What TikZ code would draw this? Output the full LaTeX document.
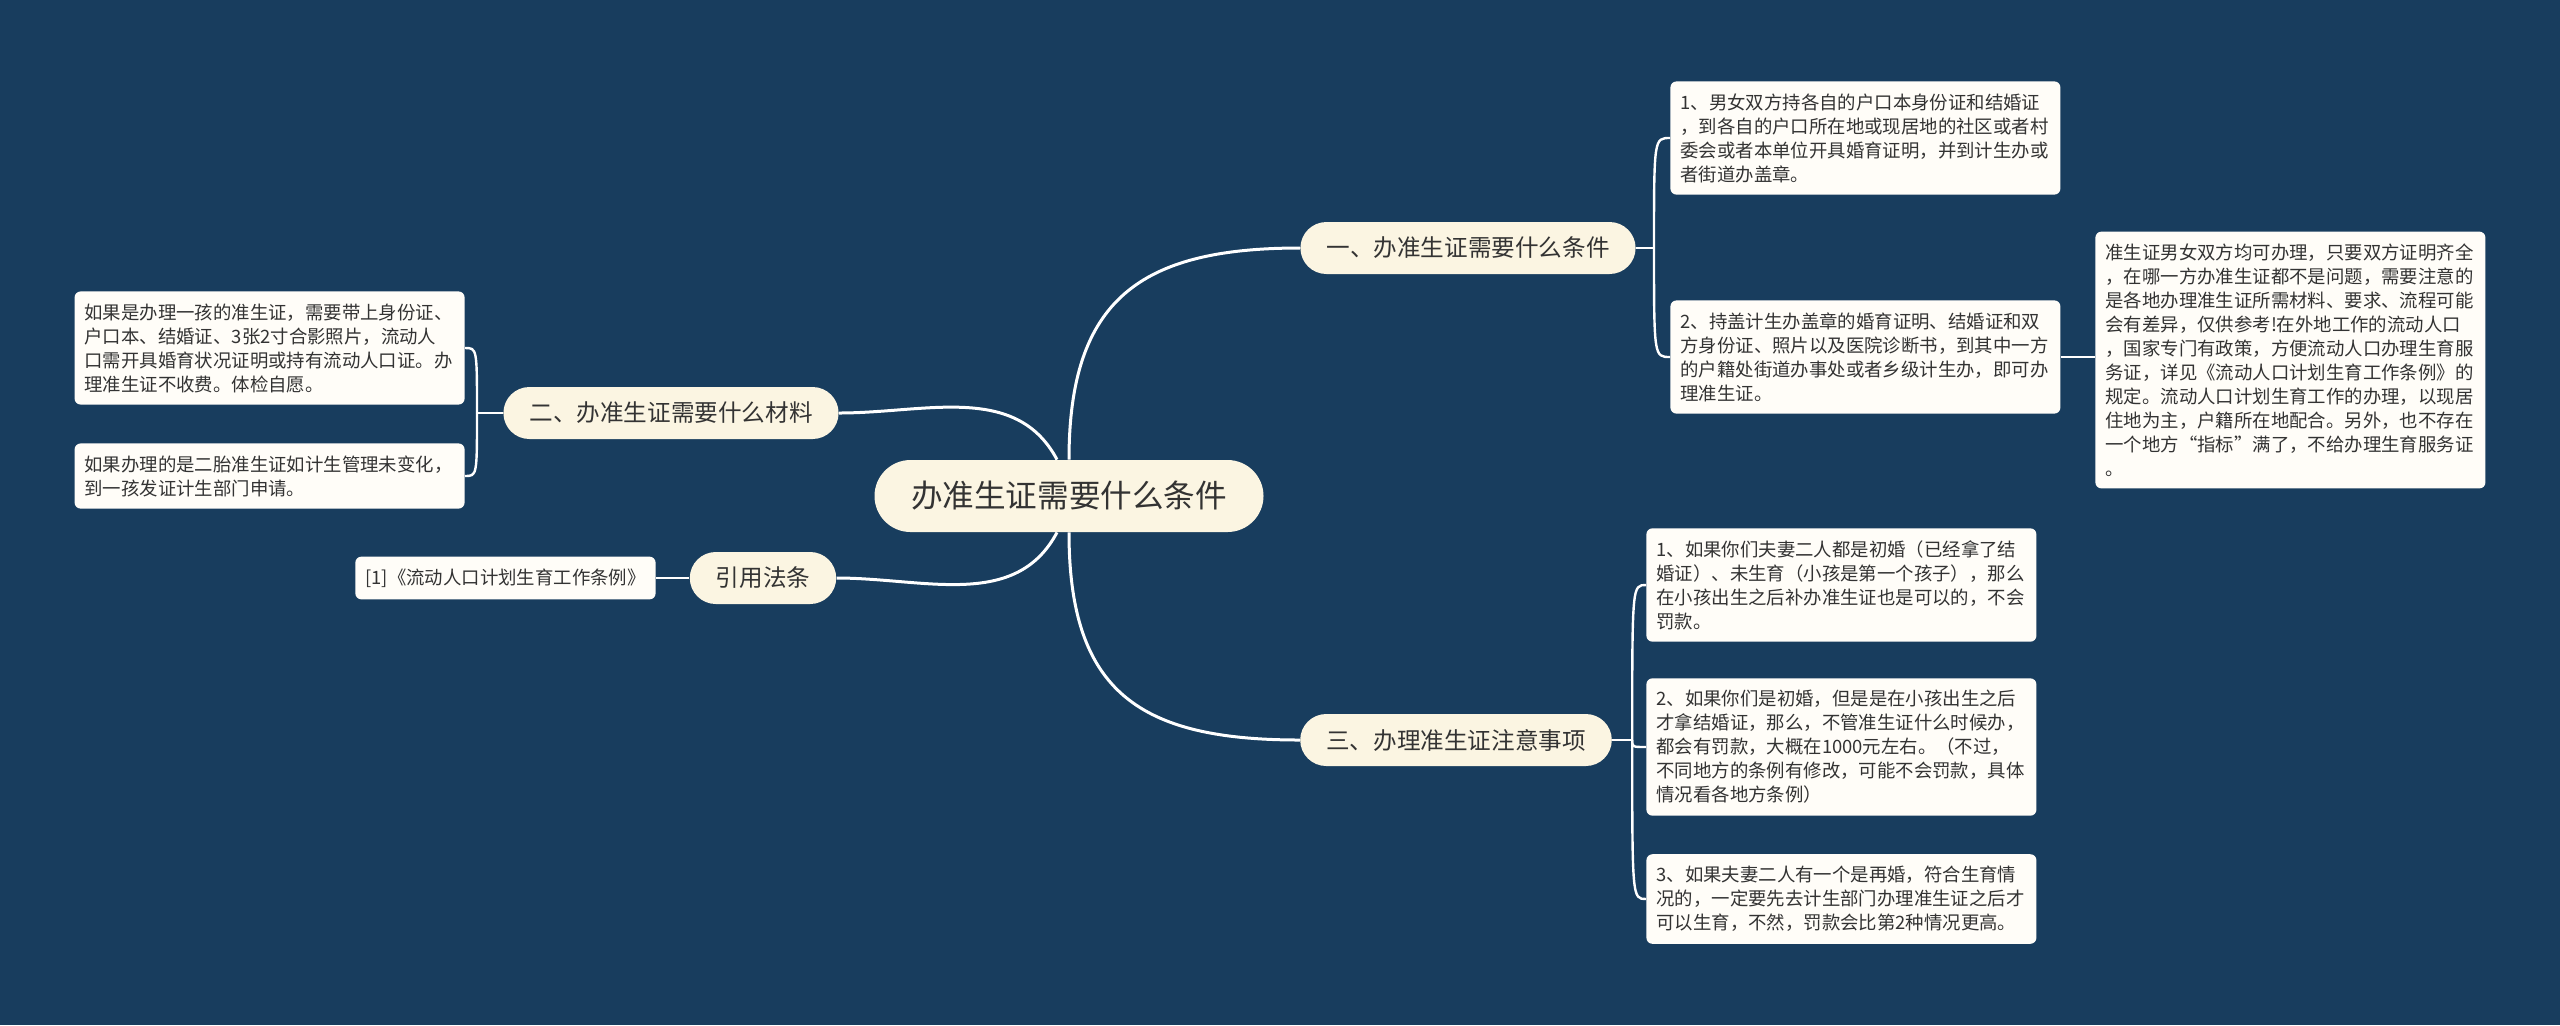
\documentclass[tikz,border=0pt]{standalone}
\usepackage{fontspec}
\setmainfont{Noto Sans CJK SC}
\usetikzlibrary{positioning}
\definecolor{bgnavy}{HTML}{183D5E}
\definecolor{topicfill}{HTML}{FBF5E2}
\definecolor{notefill}{HTML}{FFFDF8}
\definecolor{inktext}{HTML}{333333}
\tikzset{
  root/.style={rectangle,rounded corners=18pt,fill=topicfill,text=inktext,
    minimum width=194.5pt,minimum height=36pt,inner xsep=18pt,
    font=\fontsize{15.8}{18}\selectfont},
  branch/.style={rectangle,rounded corners=13pt,fill=topicfill,text=inktext,
    minimum height=26pt,inner xsep=13pt,font=\fontsize{11.8}{14}\selectfont},
  note/.style={rectangle,rounded corners=3pt,fill=notefill,text=inktext,
    align=left,inner xsep=5pt,inner ysep=6pt,font=\fontsize{9.2}{12}\selectfont},
  widenote/.style={note,text width=185pt},
  trunk/.style={draw=white,line width=1.5pt},
  twig/.style={draw=white,line width=1.2pt},
}
\begin{document}
\begin{tikzpicture}[x=0.5pt,y=-0.5pt,on grid]
  \useasboundingbox[fill=bgnavy] (0,0) rectangle (2560,1025);

  \node[root] (root) at (1069,496) {办准生证需要什么条件};
  \node[branch] (b1) [above right=124pt and 199.5pt of root] {一、办准生证需要什么条件};
  \node[branch] (b2) [above left=41.5pt and 199pt of root] {二、办准生证需要什么材料};
  \node[branch] (b3) [below left=41pt and 153pt of root] {引用法条};
  \node[branch] (b4) [below right=122pt and 193.5pt of root] {三、办理准生证注意事项};

  % notes of branch 1
  \node[widenote,anchor=west] (l11) at (1670,138) {1、男女双方持各自的户口本身份证和结婚证\\，到各自的户口所在地或现居地的社区或者村\\委会或者本单位开具婚育证明，并到计生办或\\者街道办盖章。};
  \node[widenote,anchor=west] (l12) at (1670,357) {2、持盖计生办盖章的婚育证明、结婚证和双\\方身份证、照片以及医院诊断书，到其中一方\\的户籍处街道办事处或者乡级计生办，即可办\\理准生证。};
  \node[widenote,anchor=west] (l121) at (2095,360) {准生证男女双方均可办理，只要双方证明齐全\\，在哪一方办准生证都不是问题，需要注意的\\是各地办理准生证所需材料、要求、流程可能\\会有差异，仅供参考!在外地工作的流动人口\\，国家专门有政策，方便流动人口办理生育服\\务证，详见《流动人口计划生育工作条例》的\\规定。流动人口计划生育工作的办理，以现居\\住地为主，户籍所在地配合。另外，也不存在\\一个地方“指标”满了，不给办理生育服务证\\。};

  % notes of branch 2
  \node[widenote,anchor=east] (l21) at (465,348) {如果是办理一孩的准生证，需要带上身份证、\\户口本、结婚证、3张2寸合影照片，流动人\\口需开具婚育状况证明或持有流动人口证。办\\理准生证不收费。体检自愿。};
  \node[widenote,anchor=east] (l22) at (465,476) {如果办理的是二胎准生证如计生管理未变化，\\到一孩发证计生部门申请。};

  % note of branch 3
  \node[note,anchor=east] (l31) at (656,578) {[1]《流动人口计划生育工作条例》};

  % notes of branch 4
  \node[widenote,anchor=west] (l41) at (1646,585) {1、如果你们夫妻二人都是初婚（已经拿了结\\婚证）、未生育（小孩是第一个孩子），那么\\在小孩出生之后补办准生证也是可以的，不会\\罚款。};
  \node[widenote,anchor=west] (l42) at (1646,747) {2、如果你们是初婚，但是是在小孩出生之后\\才拿结婚证，那么，不管准生证什么时候办，\\都会有罚款，大概在1000元左右。（不过，\\不同地方的条例有修改，可能不会罚款，具体\\情况看各地方条例）};
  \node[widenote,anchor=west] (l43) at (1646,899) {3、如果夫妻二人有一个是再婚，符合生育情\\况的，一定要先去计生部门办理准生证之后才\\可以生育，不然，罚款会比第2种情况更高。};

  % root to branches
  \draw[trunk] (root.north) to[out=90,in=180,distance=80pt] (b1.west);
  \draw[trunk] (root.south) to[out=-90,in=180,distance=80pt] (b4.west);
  \draw[trunk] ([xshift=-6pt]root.north) to[out=118,in=0] (b2.east);
  \draw[trunk] ([xshift=-6pt]root.south) to[out=-118,in=0] (b3.east);

  % branches to notes
  \draw[twig] (b1.east) -- ++(9pt,0) coordinate (j1);
  \draw[twig] (j1) .. controls (j1 |- l11.west) .. (l11.west);
  \draw[twig] (j1) .. controls (j1 |- l12.west) .. (l12.west);
  \draw[twig] (l12.east) -- (l12.east -| l121.west);
  \draw[twig] (b2.west) -- ++(-13pt,0) coordinate (j2);
  \draw[twig] (j2) .. controls (j2 |- l21.east) .. (l21.east);
  \draw[twig] (j2) .. controls (j2 |- l22.east) .. (l22.east);
  \draw[twig] (b3.west) -- (l31.east);
  \draw[twig] (b4.east) -- ++(10pt,0) coordinate (j4);
  \foreach \leaf in {l41,l42,l43}
    \draw[twig] (j4) .. controls (j4 |- \leaf.west) .. (\leaf.west);
\end{tikzpicture}
\end{document}
